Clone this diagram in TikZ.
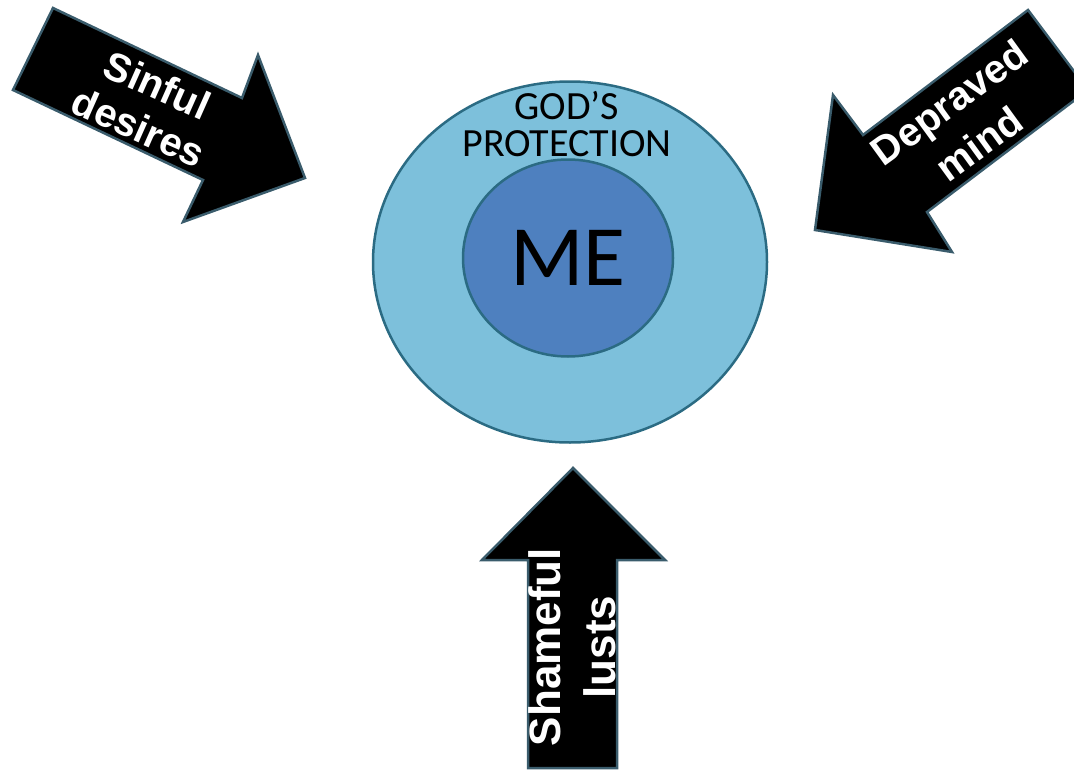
\documentclass[tikz,border=0pt]{standalone}
\usepackage{fontspec}
\usepackage{tikz}
\usetikzlibrary{shapes.geometric}
\newfontfamily\ringfont{Carlito}
\newfontfamily\arrowfont{Liberation Sans}
\definecolor{shieldblue}{HTML}{7DC0DB}
\definecolor{coreblue}{HTML}{4E80BF}
\definecolor{rimteal}{HTML}{2B6B83}
\definecolor{arrowrim}{HTML}{3A5C6C}

\begin{document}
\begin{tikzpicture}[x=1pt,y=-1pt,
    ring/.style={ellipse,draw=rimteal,line width=2.5pt,inner sep=0pt},
    temptation/.style={draw=arrowrim,line width=2.5pt,fill=black,line join=miter},
    tlabel/.style 2 args={text=white,align=center,inner sep=0pt,
      font=\arrowfont\bfseries\fontsize{#1}{#2}\selectfont}]
  \useasboundingbox (0,0) rectangle (1074,771);
  \clip (0,0) rectangle (1074,771);

  % protection ring and the core
  \node[ring,fill=shieldblue,minimum width=394pt,minimum height=361pt] (shield) at (570,262) {};
  \node[ring,fill=coreblue,minimum width=210pt,minimum height=197pt,
    font=\ringfont\fontsize{86}{86}\selectfont] (me) at (568,258) {ME};
  \node[align=center,inner sep=0pt,font=\ringfont\fontsize{40}{37}\selectfont]
    (shieldlabel) at (567,124) {GOD’S\\PROTECTION};

  % the three arrows pushing in
  \draw[temptation] (53,8) -- (242,98) -- (258,55) -- (305,178) -- (183,222)
    -- (203,180) -- (13,90) -- cycle;
  \node[tlabel={40}{46},rotate=-24] (desires) at (148,106) {Sinful\\desires};

  \draw[temptation] (1028,10) -- (863,135) -- (833,95) -- (815,230) -- (952,252)
    -- (927,212) -- (1088,90) -- cycle;
  \node[tlabel={40}{51},rotate=36] (mind) at (964,123) {Depraved\\mind};

  \draw[temptation] (573,468) -- (665,560) -- (617,560) -- (617,768) -- (528,768)
    -- (528,560) -- (482,560) -- cycle;
  \node[tlabel={44}{55},rotate=90] (lusts) at (572,647) {Shameful\\lusts};
\end{tikzpicture}
\end{document}
